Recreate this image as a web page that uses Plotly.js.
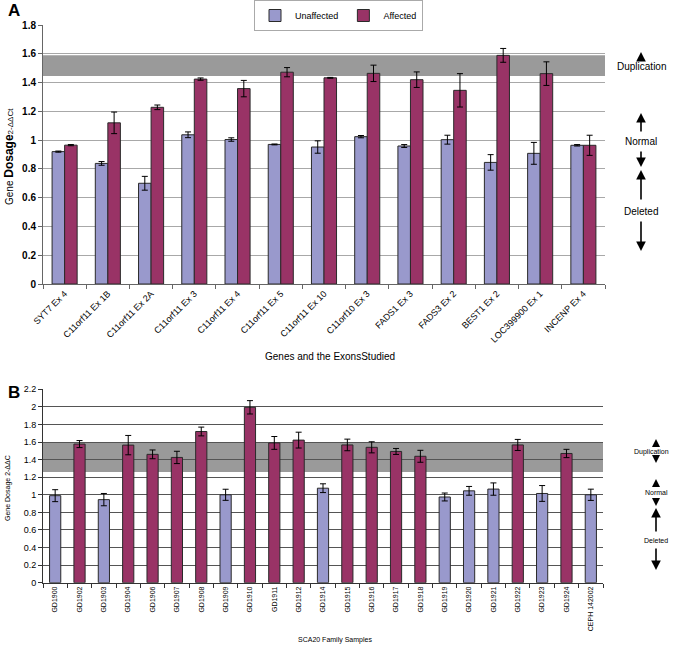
<!DOCTYPE html>
<html>
<head>
<meta charset="utf-8">
<script src="https://cdn.plot.ly/plotly-3.0.1.min.js"></script>
<style>html,body{margin:0;padding:0;background:#fff;}#chart{width:673px;height:645px;}</style>
</head>
<body>
<div id="chart"></div>
<script>
// ---- Panel A data ----
const geneLabels = ["SYT7 Ex 4","C11orf11 Ex 1B","C11orf11 Ex 2A","C11orf11 Ex 3","C11orf11 Ex 4","C11orf11 Ex 5","C11orf11 Ex 10","C11orf10 Ex 3","FADS1 Ex 3","FADS3 Ex 2","BEST1 Ex 2","LOC399900 Ex 1","INCENP Ex 4"];
const unaffected    = [0.92, 0.838, 0.70, 1.037, 1.004, 0.970, 0.952, 1.024, 0.959, 1.003, 0.845, 0.908, 0.964];
const unaffectedErr = [0.004, 0.013, 0.048, 0.02, 0.012, 0.003, 0.043, 0.008, 0.01, 0.031, 0.054, 0.076, 0.005];
const affected      = [0.965, 1.12, 1.228, 1.424, 1.358, 1.472, 1.433, 1.464, 1.42, 1.346, 1.589, 1.462, 0.964];
const affectedErr   = [0.004, 0.075, 0.016, 0.008, 0.057, 0.032, 0.003, 0.057, 0.054, 0.116, 0.048, 0.082, 0.07];
const bandA = [1.445, 1.59];

// ---- Panel B data ----
const samples = ["GD1900","GD1902","GD1903","GD1904","GD1906","GD1907","GD1908","GD1909","GD1910","GD1911","GD1912","GD1914","GD1915","GD1916","GD1917","GD1918","GD1919","GD1920","GD1921","GD1922","GD1923","GD1924","CEPH 142002"];
const sampleValues = [0.99, 1.577, 0.945, 1.565, 1.46, 1.425, 1.72, 1.0, 1.995, 1.59, 1.622, 1.075, 1.567, 1.54, 1.493, 1.438, 0.975, 1.045, 1.065, 1.567, 1.015, 1.47, 1.0];
const sampleErr    = [0.068, 0.04, 0.07, 0.11, 0.05, 0.07, 0.05, 0.063, 0.076, 0.073, 0.09, 0.05, 0.066, 0.063, 0.034, 0.068, 0.045, 0.05, 0.07, 0.063, 0.09, 0.047, 0.064];
const sampleStatus = ["U","A","U","A","A","A","A","U","A","A","A","U","A","A","A","A","U","U","U","A","U","A","U"];
const bandB = [1.26, 1.6];

const BLUE = "#9999cc", RED = "#993366", OUT = "#2a2a2a";
const W = 673, H = 645;
const px = v => v / W, py = v => 1 - v / H;
const FONT = "Arial, 'Liberation Sans', sans-serif";

const traces = [
  {type:"bar", name:"Unaffected", x:geneLabels, y:unaffected, xaxis:"x", yaxis:"y",
   marker:{color:BLUE, line:{color:OUT, width:1}},
   error_y:{type:"data", array:unaffectedErr, visible:true, color:"#000", thickness:1, width:3}},
  {type:"bar", name:"Affected", x:geneLabels, y:affected, xaxis:"x", yaxis:"y",
   marker:{color:RED, line:{color:OUT, width:1}},
   error_y:{type:"data", array:affectedErr, visible:true, color:"#000", thickness:1, width:3}},
  {type:"bar", name:"Samples", x:samples, y:sampleValues, xaxis:"x2", yaxis:"y2", showlegend:false,
   width:0.46,
   marker:{color:sampleStatus.map(s => s === "A" ? RED : BLUE), line:{color:OUT, width:1}},
   error_y:{type:"data", array:sampleErr, visible:true, color:"#000", thickness:1, width:3}}
];

function arrow(x, yHead, yTail, size) {
  return {xref:"paper", yref:"paper", x:px(x), y:py(yHead), ax:0, ay:(yTail - yHead),
          axref:"pixel", ayref:"pixel", text:"", showarrow:true, arrowhead:2, arrowsize:size||1.2,
          arrowwidth:1.6, arrowcolor:"#000"};
}
function label(x, y, text, size, extra) {
  return Object.assign({xref:"paper", yref:"paper", x:px(x), y:py(y), text:text, showarrow:false,
          font:{family:FONT, size:size, color:"#000"}, xanchor:"center", yanchor:"middle"}, extra||{});
}

const annotations = [
  label(14, 11, "<b>A</b>", 17),
  label(14, 393, "<b>B</b>", 17),
  label(330, 356, "Genes and the ExonsStudied", 10),
  label(335, 640, "SCA20 Family Samples", 7),
  label(9, 157, "Gene <b><span style='font-size:12px'>Dosage</span></b><span style='font-size:8px'>2-ΔΔCt</span>", 10, {textangle:-90}),
  label(8, 488, "Gene Dosage 2-ΔΔC", 7, {textangle:-90}),
  // Panel A side labels
  label(641, 67, "Duplication", 10),
  arrow(641, 52, 62, 1.2),
  label(641, 142, "Normal", 10),
  arrow(641, 113, 133),
  arrow(641, 167, 150),
  label(641, 211, "Deleted", 10),
  arrow(641, 170, 201),
  arrow(641, 251, 220),
  // Panel B side labels
  label(671, 452, "Duplication", 7, {xanchor:"right"}),
  arrow(656, 439, 446, 1),
  arrow(656, 463, 457, 1),
  label(656, 492, "Normal", 7),
  arrow(656, 479, 486, 1),
  arrow(656, 506, 499, 1),
  label(656, 540, "Deleted", 7),
  arrow(656, 508, 533),
  arrow(656, 570, 547)
];

const shapes = [
  {type:"rect", xref:"x domain", yref:"y", x0:0, x1:1, y0:bandA[0], y1:bandA[1],
   fillcolor:"#9a9a9a", line:{width:0}, layer:"below"},
  {type:"rect", xref:"x2 domain", yref:"y2", x0:0, x1:1, y0:bandB[0], y1:bandB[1],
   fillcolor:"#9a9a9a", line:{width:0}, layer:"below"}
];

const layout = {
  width:W, height:H, margin:{l:0, r:0, t:0, b:0},
  paper_bgcolor:"#fff", plot_bgcolor:"rgba(0,0,0,0)",
  font:{family:FONT, color:"#000"},
  barmode:"group", bargap:0.42, bargroupgap:0,
  showlegend:true,
  legend:{orientation:"h", x:px(254), y:1, xanchor:"left", yanchor:"top",
          bordercolor:"#aaa", borderwidth:1, font:{size:9, color:"#000"}, bgcolor:"#fff",
          itemwidth:30},
  xaxis:{domain:[px(43), px(605)], anchor:"y", type:"category", tickangle:-45,
         tickson:"boundaries", ticks:"outside", ticklen:4, tickcolor:"#666",
         showline:true, linecolor:"#666", tickfont:{size:9, color:"#000"}, automargin:false},
  yaxis:{domain:[py(284), py(25)], anchor:"x", range:[0, 1.8], dtick:0.2,
         showgrid:true, gridcolor:"#a8a8a8", zeroline:false, showline:true, linecolor:"#666",
         ticks:"outside", ticklen:4, tickcolor:"#666", tickfont:{size:10, weight:"bold", color:"#000"}, automargin:false},
  xaxis2:{domain:[px(43), px(603)], anchor:"y2", type:"category", tickangle:-90,
          tickson:"boundaries", ticks:"outside", ticklen:4, tickcolor:"#333",
          showline:true, linecolor:"#333", tickfont:{size:7, color:"#000"}, automargin:false},
  yaxis2:{domain:[py(582.7), py(389.3)], anchor:"x2", range:[0, 2.2], dtick:0.2,
          showgrid:true, gridcolor:"#555", zeroline:false, showline:true, linecolor:"#333",
          ticks:"outside", ticklen:4, tickcolor:"#333", tickfont:{size:9, color:"#000"}, automargin:false},
  shapes:shapes, annotations:annotations
};

Plotly.newPlot("chart", traces, layout, {displayModeBar:false, staticPlot:true});
</script>
</body>
</html>
